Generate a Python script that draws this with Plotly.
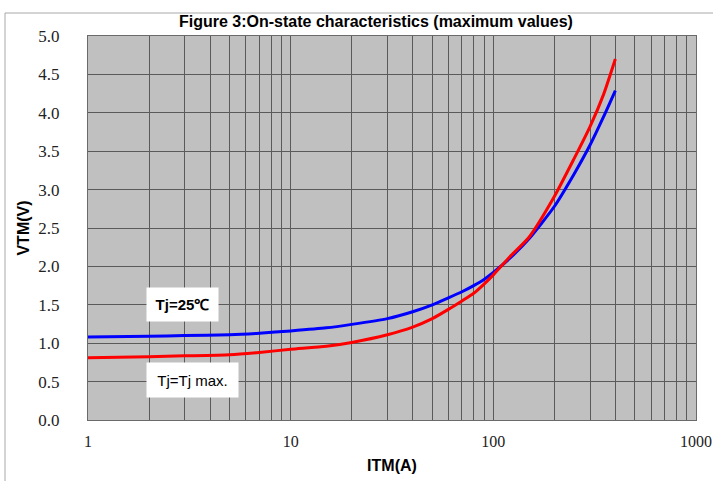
import plotly.graph_objects as go

# Data
itm = [1, 2, 3, 5, 7, 10, 15, 20, 30, 40, 50, 60, 70, 80, 90, 100, 120, 150, 200, 250, 300, 350, 400]
vtm_25 = [1.08, 1.09, 1.10, 1.11, 1.13, 1.16, 1.20, 1.245, 1.32, 1.41, 1.50, 1.59, 1.67, 1.75, 1.83,
          1.92, 2.10, 2.36, 2.78, 3.20, 3.58, 3.95, 4.29]
vtm_max = [0.81, 0.825, 0.835, 0.85, 0.88, 0.92, 0.96, 1.01, 1.11, 1.21, 1.32, 1.44, 1.55, 1.65, 1.77,
           1.89, 2.12, 2.38, 2.91, 3.40, 3.82, 4.24, 4.70]

x_tickvals = [m * d for d in (1, 10, 100) for m in range(1, 10)] + [1000]
x_ticktext = [str(v) if v in (1, 10, 100, 1000) else "" for v in x_tickvals]
y_tickvals = [i * 0.5 for i in range(11)]
y_ticktext = [f"{v:.1f}" for v in y_tickvals]

title_text = "Figure 3:On-state characteristics (maximum values)"
label_25 = "Tj=25℃"
label_max = "Tj=Tj max."

fig = go.Figure()
fig.add_trace(go.Scatter(x=itm, y=vtm_25, mode="lines", line=dict(color="#0000FF", width=3),
                         line_shape="spline", line_smoothing=0.6, showlegend=False))
fig.add_trace(go.Scatter(x=itm, y=vtm_max, mode="lines", line=dict(color="#FF0000", width=3),
                         line_shape="spline", line_smoothing=0.6, showlegend=False))

grid_col = "#5a5a5a"
fig.update_layout(
    width=713, height=481,
    margin=dict(l=88, r=17, t=36, b=61),
    paper_bgcolor="white",
    plot_bgcolor="#C0C0C0",
    showlegend=False,
    xaxis=dict(type="log", range=[0, 3], tickvals=x_tickvals, ticktext=x_ticktext,
               showgrid=True, gridcolor=grid_col, gridwidth=1,
               showline=True, linecolor="#6a6a6a", linewidth=1, mirror=True,
               ticks="", ticklabelstandoff=7, automargin=False,
               tickfont=dict(family="Liberation Serif", size=16, color="#222"),
               title=dict(text="<b>ITM(A)</b>", font=dict(family="Liberation Sans", size=16, color="black"),
                          standoff=10),
               zeroline=False),
    yaxis=dict(range=[0, 5], tickvals=y_tickvals, ticktext=y_ticktext,
               showgrid=True, gridcolor=grid_col, gridwidth=1,
               showline=True, linecolor="#6a6a6a", linewidth=1, mirror=True,
               ticks="", ticklabelstandoff=24, automargin=False,
               tickfont=dict(family="Liberation Serif", size=17, color="#222"),
               title=dict(text="<b>VTM(V)</b>", font=dict(family="Liberation Sans", size=16, color="black"),
                          standoff=4),
               zeroline=False),
)

fig.add_annotation(text="<b>" + title_text + "</b>", xref="paper", yref="paper",
                   x=(376 - 88) / 608, y=(420 - 21) / 384, xanchor="center", yanchor="middle",
                   showarrow=False, font=dict(family="Liberation Sans", size=16, color="black"))

fig.add_annotation(text="<b>" + label_25 + "</b>", xref="x", yref="y",
                   x=0.4655, y=1.504, showarrow=False, bgcolor="white",
                   width=71, height=33, borderpad=0,
                   font=dict(family="Liberation Sans", size=15, color="black"))
fig.add_annotation(text=label_max, xref="x", yref="y",
                   x=0.5148, y=0.52, showarrow=False, bgcolor="white",
                   width=91, height=34, borderpad=0,
                   font=dict(family="Liberation Sans", size=15, color="black"))

# outer chart-area border
fig.add_shape(type="rect", xref="paper", yref="paper",
              x0=(5 - 88) / 608, x1=(730 - 88) / 608, y0=(420 - 500) / 384, y1=(420 - 13) / 384,
              line=dict(color="#a8a8a8", width=1), fillcolor="rgba(0,0,0,0)", layer="above")

fig.write_html("out.html", config={"displayModeBar": False},
               post_script="document.body.style.margin='0';document.body.style.overflow='hidden';")
